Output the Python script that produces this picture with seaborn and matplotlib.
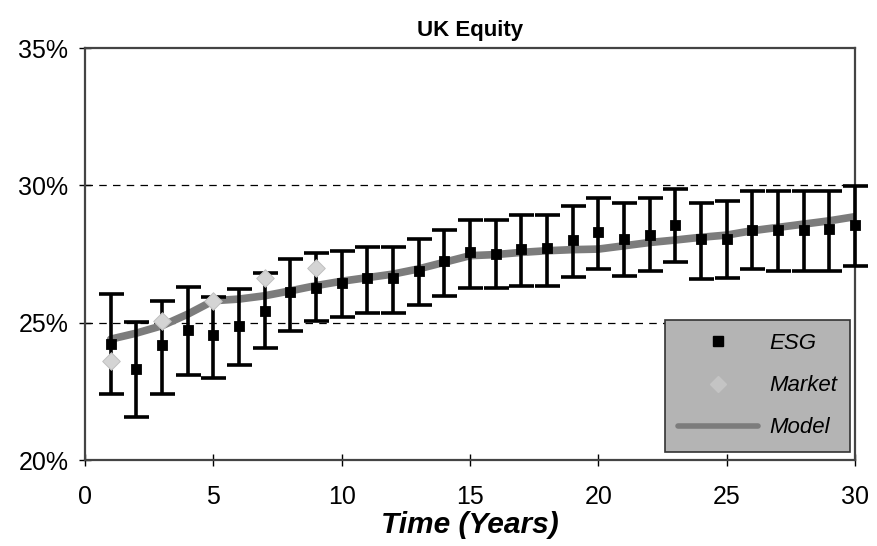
import matplotlib
matplotlib.use("Agg")
import matplotlib.pyplot as plt
import seaborn as sns
import pandas as pd
import numpy as np
from matplotlib.lines import Line2D
from matplotlib.ticker import FuncFormatter

# ---- data ----
years = list(range(1, 31))
esg = [24.24, 23.33, 24.19, 24.73, 24.55, 24.89, 25.44, 26.10, 26.26, 26.44,
       26.63, 26.63, 26.89, 27.23, 27.59, 27.50, 27.68, 27.71, 28.02, 28.29,
       28.05, 28.20, 28.56, 28.05, 28.05, 28.39, 28.39, 28.39, 28.41, 28.56]
esg_high = [26.04, 25.01, 25.78, 26.31, 25.92, 26.23, 26.80, 27.32, 27.52, 27.62,
            27.77, 27.77, 28.05, 28.39, 28.75, 28.75, 28.93, 28.93, 29.26, 29.54,
            29.36, 29.54, 29.87, 29.37, 29.44, 29.78, 29.78, 29.78, 29.81, 29.99]
esg_low = [22.40, 21.56, 22.40, 23.11, 22.97, 23.46, 24.08, 24.71, 25.05, 25.19,
           25.36, 25.36, 25.64, 25.98, 26.26, 26.26, 26.32, 26.32, 26.68, 26.96,
           26.70, 26.87, 27.20, 26.59, 26.61, 26.96, 26.87, 26.87, 26.87, 27.05]
market_years = [1, 3, 5, 7, 9]
market = [23.62, 25.05, 25.80, 26.63, 27.00]
model = [24.40, 24.62, 24.89, 25.31, 25.80, 25.86, 25.98, 26.16, 26.35, 26.51,
         26.64, 26.77, 26.96, 27.20, 27.44, 27.48, 27.56, 27.62, 27.66, 27.68,
         27.80, 27.92, 28.01, 28.11, 28.19, 28.35, 28.47, 28.59, 28.71, 28.86]
x_ticks = [0, 5, 10, 15, 20, 25, 30]
y_ticks = [20, 25, 30, 35]

df = pd.DataFrame({"year": years, "esg": esg, "low": esg_low,
                   "high": esg_high, "model": model})
dm = pd.DataFrame({"year": market_years, "market": market})

sns.set_theme(style="white", rc={"text.color": "black", "axes.labelcolor": "black",
                                 "xtick.color": "black", "ytick.color": "black"})
plt.rcParams["font.family"] = ["Liberation Sans", "DejaVu Sans"]

fig = plt.figure(figsize=(8.77, 5.46), dpi=100)
ax = fig.add_axes([0.097, 0.1575, 0.878, 0.7545])

for yv in [25, 30]:
    ax.axhline(yv, color="black", lw=0.9, ls=(0, (6, 5)), zorder=1)

sns.lineplot(data=df, x="year", y="model", ax=ax, color="#7c7c7c", lw=5.5,
             zorder=2, legend=False)

yerr = [np.array(esg) - np.array(esg_low), np.array(esg_high) - np.array(esg)]
ax.errorbar(years, esg, yerr=yerr, fmt="none", ecolor="black",
            elinewidth=2.6, capsize=9, capthick=2.6, zorder=3, clip_on=False)

sns.scatterplot(data=df, x="year", y="esg", ax=ax, marker="s", s=55,
                color="black", edgecolor="black", zorder=4, legend=False,
                clip_on=False)
sns.scatterplot(data=dm, x="year", y="market", ax=ax, marker="D", s=80,
                color="#d4d4d4", edgecolor="#c0c0c0", zorder=5, legend=False)

ax.set_xlim(0, 30)
ax.set_ylim(20, 35)
ax.set_xticks(x_ticks)
ax.set_yticks(y_ticks)
ax.yaxis.set_major_formatter(FuncFormatter(lambda v, p: f"{v:.0f}%"))
ax.tick_params(axis="both", labelsize=18, direction="inout", length=8,
               width=1, color="black", left=True, bottom=True)
ax.tick_params(axis="y", pad=8)
ax.tick_params(axis="x", pad=14)

for s in ax.spines.values():
    s.set_color("#444444")
    s.set_linewidth(1.6)

ax.set_title("UK Equity", fontsize=16, fontweight="bold", pad=9)
ax.set_xlabel("Time (Years)", fontsize=21.5, fontweight="bold", style="italic")
ax.set_ylabel("")
ax.xaxis.set_label_coords(0.5, -0.124)

handles = [
    Line2D([], [], marker="s", color="black", ls="none", markersize=7),
    Line2D([], [], marker="D", color="#c4c4c4", ls="none", markersize=8),
    Line2D([], [], color="#7c7c7c", lw=4),
]
leg = ax.legend(handles, ["ESG", "Market", "Model"], loc="lower right",
                bbox_to_anchor=(0.994, 0.02), prop={"size": 16, "style": "italic"},
                frameon=True, fancybox=False, handlelength=3.6,
                labelspacing=0.95, borderpad=0.6, handletextpad=0.5,
                borderaxespad=0)
leg.get_frame().set_facecolor("#b4b4b4")
leg.get_frame().set_edgecolor("#333333")
leg.get_frame().set_linewidth(1.2)
leg.get_frame().set_alpha(1)

fig.savefig("out.png", dpi=100)
